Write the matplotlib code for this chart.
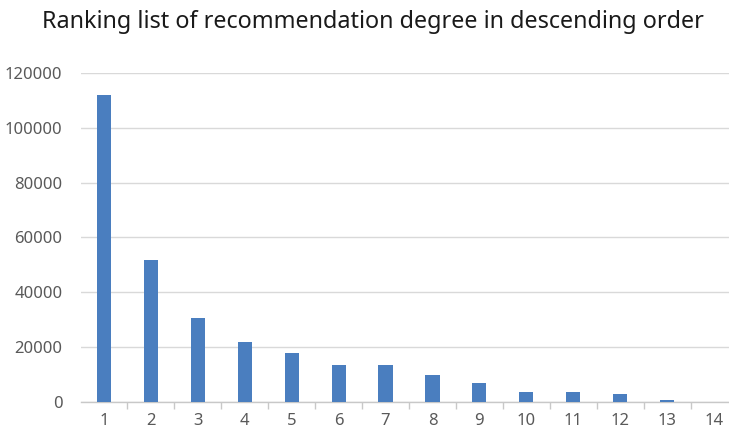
import matplotlib
matplotlib.use("Agg")
import matplotlib.pyplot as plt
import numpy as np

categories = ["1", "2", "3", "4", "5", "6", "7", "8", "9", "10", "11", "12", "13", "14"]
values = [112000, 51800, 30700, 21900, 17800, 13500, 13500, 9700, 7000, 3600, 3600, 3100, 600, 0]
yticks = [0, 20000, 40000, 60000, 80000, 100000, 120000]

plt.rcParams['font.family'] = ['Noto Sans', 'DejaVu Sans']

fig = plt.figure(figsize=(7.29, 4.32), dpi=100)
left_px, right_px = 80.5, 737.5
top_px, bot_px = 73, 402
ax = fig.add_axes([left_px / 729, 1 - bot_px / 432, (right_px - left_px) / 729, (bot_px - top_px) / 432])

x = np.arange(1, len(categories) + 1)
ax.bar(x, values, width=0.3, color='#4a7ebf', zorder=3)

ax.set_xlim(0.5, len(categories) + 0.5)
ax.set_ylim(0, 120000)
ax.set_yticks(yticks)
ax.set_yticklabels([str(v) for v in yticks])
ax.set_xticks(x)
ax.set_xticklabels(categories)
ax.set_xticks(np.arange(1.5, len(categories), 1.0), minor=True)

ax.grid(axis='y', color='#d9d9d9', linewidth=1, zorder=0)
for s in ['top', 'right', 'left']:
    ax.spines[s].set_visible(False)
ax.spines['bottom'].set_color('#c8c8c8')
ax.spines['bottom'].set_linewidth(1)

ax.tick_params(axis='y', length=0, labelsize=12, labelcolor='#595959', pad=13)
ax.tick_params(axis='x', which='major', length=0, labelsize=12, labelcolor='#595959', pad=8)
ax.tick_params(axis='x', which='minor', length=5, color='#c8c8c8', width=1)

fig.text(0.512, 1 - 22 / 432, "Ranking list of recommendation degree in descending order",
         ha='center', va='center', fontsize=16.8, color='#1a1a1a')

fig.savefig("out.png", dpi=100)
